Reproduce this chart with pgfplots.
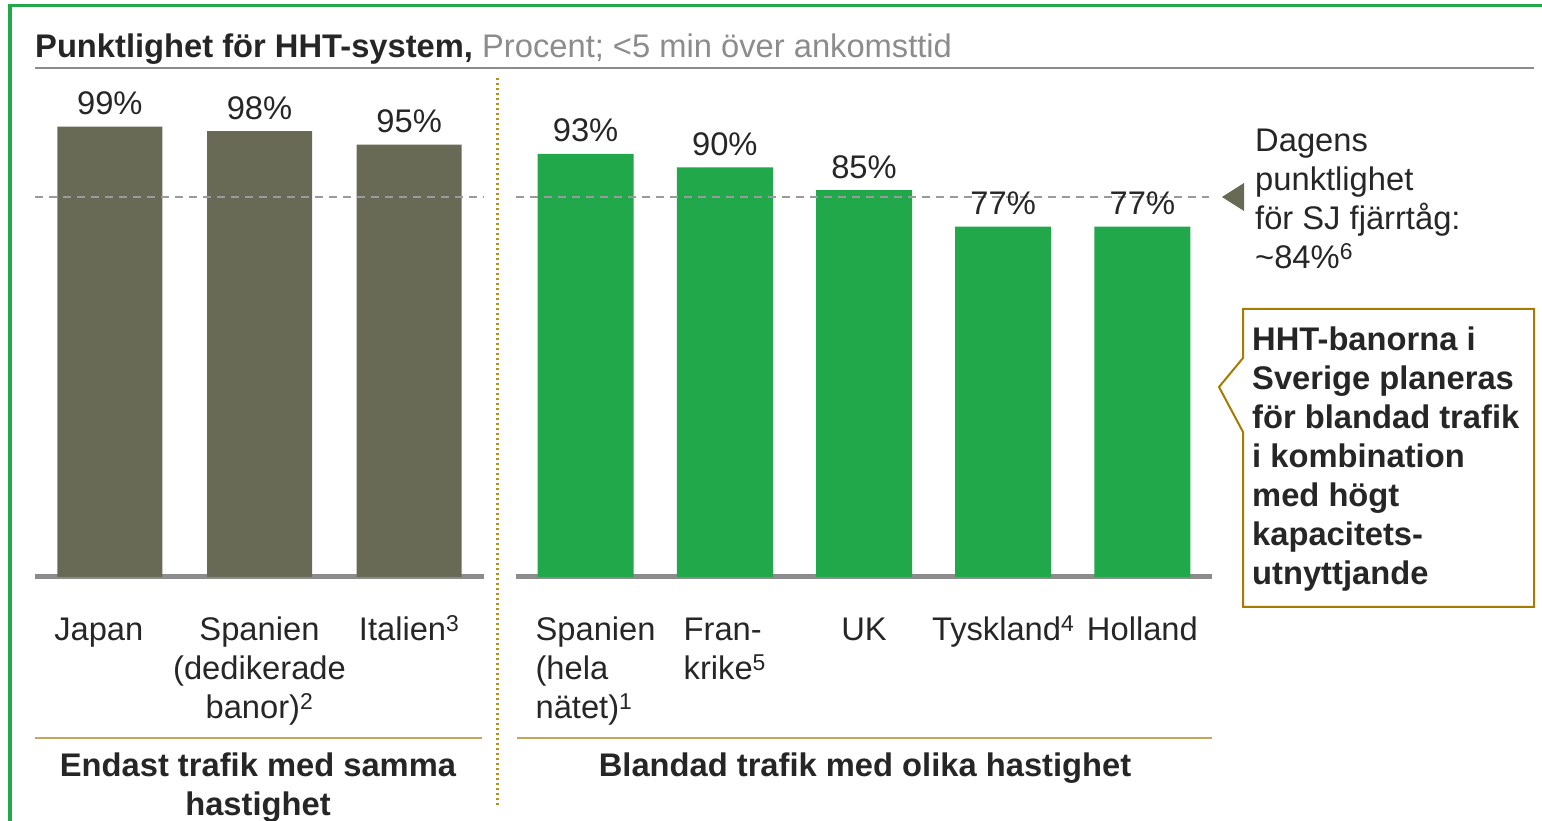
\documentclass[border=0pt]{standalone}
\usepackage{fontspec}
\setmainfont{Liberation Sans}
\usepackage{pgfplots}
\pgfplotsset{compat=1.18}
\definecolor{barOlive}{HTML}{686A55}
\definecolor{barGreen}{HTML}{21A84A}
\definecolor{baseGray}{HTML}{8C8C8C}
\definecolor{dashGray}{HTML}{9A9A9A}
\definecolor{txt}{HTML}{262626}
\definecolor{titleGray}{HTML}{8C8C8C}
\definecolor{goldLine}{HTML}{C4A55A}
\definecolor{goldDot}{HTML}{B8901E}
\definecolor{calloutBorder}{HTML}{A67C00}
\definecolor{frameGreen}{HTML}{22AA4A}
\newcommand{\fs}{\fontsize{32.7}{39}\selectfont}
\newcommand{\fsc}{\fontsize{32.7}{39}\selectfont}
\pgfplotsset{
  myaxis/.style={
    scale only axis, anchor=south west, height=455pt,
    ymin=0, ymax=100, axis y line=none, axis x line*=bottom,
    x axis line style={draw=baseGray, line width=5pt},
    major tick length=0pt,
    xticklabel style={font=\fs, text=txt, anchor=base, inner sep=0pt, yshift=-64pt},
    clip=false,
  },
  mybar/.style={
    ybar, bar shift=0pt, draw=none,
    nodes near coords={\pgfmathprintnumber[assume math mode=true]{\pgfplotspointmeta}\%},
    nodes near coords style={font=\fs, text=txt, anchor=base, inner sep=0pt, yshift=12pt},
  },
}
\pgfplotstableread{
x y
0 99
1 98
2 95
}\lefttab
\pgfplotstableread{
x y
0 93
1 90
2 85
3 77
4 77
}\righttab
\begin{document}
\begin{tikzpicture}
\path[use as bounding box] (0,0) rectangle (1542pt,821pt);
% left axis
\begin{axis}[myaxis, at={(35pt,244pt)}, width=449pt,
  xmin=-0.5, xmax=2.5, xtick={0,1,2},
  xticklabels={{Japan\hspace*{22pt}},
    {\begin{tabular}[t]{@{}c@{}}Spanien\\(dedikerade\\banor)\textsuperscript{2}\end{tabular}},
    {Italien\textsuperscript{3}}}]
\addplot[mybar, bar width=105pt, fill=barOlive] table[x=x,y=y] {\lefttab};
\addplot[dashGray, line width=2pt, dash pattern=on 8pt off 6pt] coordinates {(-0.5,83.6) (2.5,83.6)};
\end{axis}
% right axis
\begin{axis}[myaxis, at={(516pt,244pt)}, width=696pt,
  xmin=-0.5, xmax=4.5, xtick={0,1,2,3,4},
  xticklabels={
    {\begin{tabular}[t]{@{\hspace{20pt}}l@{}}Spanien\\(hela\\nätet)\textsuperscript{1}\end{tabular}},
    {\begin{tabular}[t]{@{}l@{}}Fran-\\krike\textsuperscript{5}\end{tabular}},
    {UK},
    {Tyskland\textsuperscript{4}},
    {Holland}}]
\addplot[mybar, bar width=96pt, fill=barGreen] table[x=x,y=y] {\righttab};
\addplot[dashGray, line width=2pt, dash pattern=on 8pt off 6pt] coordinates {(-0.5,83.6) (4.48,83.6)};
\end{axis}
\begin{scope}[x=1pt, y=-1pt, shift={(0pt,821pt)}]
  % frame
  \draw[frameGreen, line width=3.5pt] (10,830) -- (10,5.5) -- (1545,5.5);
  % title
  \node[anchor=base west, inner sep=0pt, font=\fs, text=txt] at (35,58)
    {\textbf{Punktlighet för HHT-system,} \textcolor{titleGray}{Procent; <5 min över ankomsttid}};
  \draw[baseGray, line width=2pt] (35,68) -- (1534,68);
  % dotted separator
  \draw[goldDot, line width=3pt, dash pattern=on 2.5pt off 2.5pt] (497,78) -- (497,805);
  % group lines
  \draw[goldLine, line width=2pt] (35,738) -- (482,738);
  \draw[goldLine, line width=2pt] (517,738) -- (1212,738);
  % group labels
  \node[anchor=base, inner sep=0pt, font=\fs\bfseries, text=txt] at (258,777)
    {\begin{tabular}[t]{@{}c@{}}Endast trafik med samma\\hastighet\end{tabular}};
  \node[anchor=base, inner sep=0pt, font=\fs\bfseries, text=txt] at (865,777)
    {Blandad trafik med olika hastighet};
  % marker triangle
  \fill[barOlive] (1222,197) -- (1244,183) -- (1244,211) -- cycle;
  \node[anchor=base west, inner sep=0pt, font=\fs, text=txt] at (1255,152)
    {\begin{tabular}[t]{@{}l@{}}Dagens\\punktlighet\\för SJ fjärrtåg:\\\textasciitilde 84\%\textsuperscript{6}\end{tabular}};
  % callout
  \draw[calloutBorder, line width=2pt, fill=white] (1243,309) -- (1534,309) -- (1534,607)
    -- (1243,607) -- (1243,432) -- (1219,387) -- (1243,358) -- cycle;
  \node[anchor=base west, inner sep=0pt, font=\fsc\bfseries, text=txt] at (1252,351)
    {\begin{tabular}[t]{@{}l@{}}HHT-banorna i\\Sverige planeras\\för blandad trafik\\i kombination\\med högt\\kapacitets-\\utnyttjande\end{tabular}};
\end{scope}
\end{tikzpicture}
\end{document}
